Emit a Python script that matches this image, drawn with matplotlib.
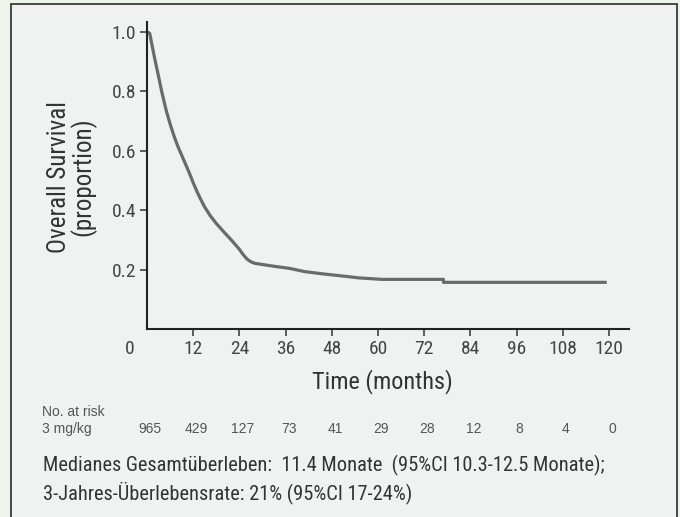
import matplotlib
matplotlib.use("Agg")
import matplotlib.pyplot as plt
from matplotlib.patches import Rectangle
from matplotlib.transforms import blended_transform_factory

# ---- data ----
months = [0, 0.7, 1, 2, 3, 3.8, 5, 6, 7, 8, 9, 10, 11, 12, 13, 14, 15, 16.5,
          18, 20, 22, 23, 24, 25, 26, 27, 28, 30, 33, 37, 41, 46, 51, 55, 61,
          77, 77, 119]
survival = [1.0, 0.995, 0.975, 0.91, 0.85, 0.80, 0.735, 0.69, 0.65, 0.615,
            0.585, 0.555, 0.525, 0.492, 0.462, 0.435, 0.41, 0.38, 0.355, 0.326,
            0.298, 0.283, 0.268, 0.25, 0.235, 0.226, 0.221, 0.217, 0.211, 0.204,
            0.193, 0.185, 0.178, 0.172, 0.167, 0.167, 0.157, 0.157]
x_ticks = [12, 24, 36, 48, 60, 72, 84, 96, 108, 120]
y_ticks = [0.2, 0.4, 0.6, 0.8, 1.0]
risk_times = [0, 12, 24, 36, 48, 60, 72, 84, 96, 108, 120]
risk_counts = [965, 429, 127, 73, 41, 29, 28, 12, 8, 4, 0]

FONT = ["Roboto Condensed", "DejaVu Sans"]
RISK_FONT = ["Liberation Sans", "DejaVu Sans"]
W, H = 680, 517


def fx(px):
    return px / W


def fy(py):
    return 1 - py / H


fig = plt.figure(figsize=(W / 100, H / 100), dpi=100, facecolor="#edf5eb")
# inner panel with border
fig.patches.append(Rectangle((fx(11), -0.05), fx(677) - fx(11), fy(4) + 0.05,
                             transform=fig.transFigure, facecolor="#f0f2f1",
                             edgecolor="#3a3a3a", lw=1.3, zorder=-1))

ax = fig.add_axes([fx(147), fy(329), fx(629) - fx(147), fy(22) - fy(329)])
ax.set_zorder(1)
ax.set_facecolor("none")
ax.plot(months, survival, color="#6a6a6a", lw=2.3, solid_joinstyle="round")
ax.set_xlim(0, 125.2)
ax.set_ylim(0, 1.033)
for s in ("top", "right"):
    ax.spines[s].set_visible(False)
for s in ("left", "bottom"):
    ax.spines[s].set_color("#222222")
    ax.spines[s].set_linewidth(1.5)
ax.set_xticks(x_ticks)
ax.set_xticklabels([str(t) for t in x_ticks], family=FONT, fontsize=14, color="#444444")
ax.set_yticks(y_ticks)
ax.set_yticklabels([f"{t:.1f}" for t in y_ticks], family=FONT, fontsize=14, color="#444444")
ax.tick_params(axis="both", length=5, width=1.1, color="#333333", pad=3)
# the "0" label sits left of the axis corner, level with the other tick labels
ax.text(-4.4, -0.067, "0", ha="center", va="center", family=FONT, fontsize=14,
        color="#444444", clip_on=False)

fig.text(fx(72), fy(177), "Overall Survival\n(proportion)", rotation=90, ha="center",
         va="center", family=FONT, fontsize=18, color="#333333", linespacing=0.92)
fig.text(fx(382), fy(382), "Time (months)", ha="center", va="center", family=FONT,
         fontsize=17.5, color="#333333")

# numbers at risk
fig.text(fx(42), fy(412), "No. at risk", ha="left", va="center", family=RISK_FONT,
         fontsize=10, color="#555555")
fig.text(fx(42), fy(429), "3 mg/kg", ha="left", va="center", family=RISK_FONT,
         fontsize=10, color="#555555")
risk_tr = blended_transform_factory(ax.transData, fig.transFigure)
for t, n in zip(risk_times, risk_counts):
    ax.text(t + 0.8, fy(429), str(n), ha="center", va="center", family=RISK_FONT,
            fontsize=10, color="#555555", transform=risk_tr, clip_on=False)

fig.text(fx(43), fy(465), "Medianes Gesamtüberleben:  11.4 Monate  (95%CI 10.3-12.5 Monate);",
         ha="left", va="center", family=FONT, fontsize=14.7, color="#333333")
fig.text(fx(43), fy(493), "3-Jahres-Überlebensrate: 21% (95%CI 17-24%)",
         ha="left", va="center", family=FONT, fontsize=14.7, color="#333333")

fig.savefig("out.png", dpi=100, facecolor=fig.get_facecolor())
